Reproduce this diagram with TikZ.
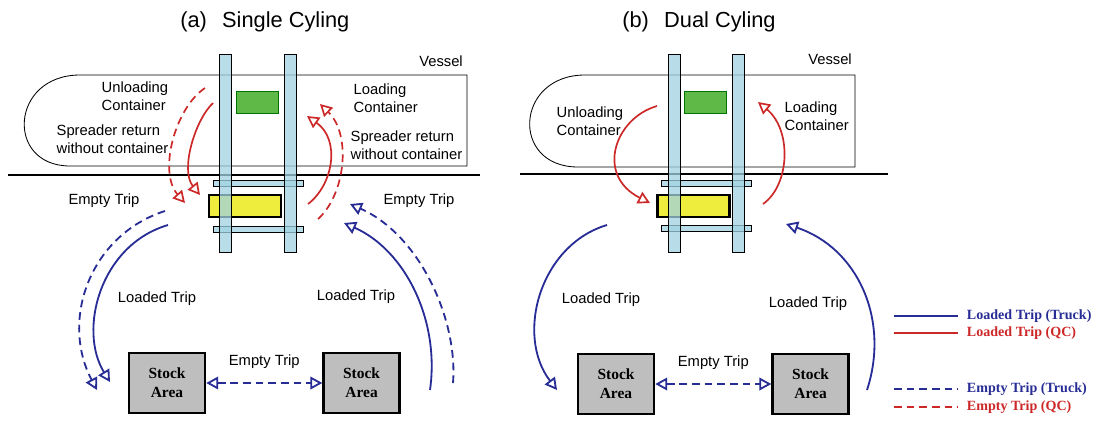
\documentclass[tikz,border=0pt]{standalone}
\usepackage{fontspec}
\setmainfont{Liberation Serif}
\setsansfont{Liberation Sans}
\usetikzlibrary{arrows.meta, positioning}

\definecolor{truckblue}{RGB}{40,45,150}
\definecolor{qcred}{RGB}{205,40,40}
\definecolor{cranefill}{RGB}{160,210,226}
\definecolor{holdgreen}{RGB}{95,185,70}
\definecolor{boxyellow}{RGB}{238,236,60}
\definecolor{stockgray}{RGB}{190,190,190}

\begin{document}
\begin{tikzpicture}[
    x=0.025cm, y=-0.025cm,
    font=\sffamily\fontsize{10.5}{13}\selectfont,
    >={Triangle[open, length=8.5pt, width=9pt]},
    lbl/.style={align=left, anchor=west, inner sep=1pt},
    paneltitle/.style={anchor=west, inner sep=0pt, font=\sffamily\fontsize{15.5}{18}\selectfont},
    stock/.style={rectangle, draw, line width=1.8pt, fill=stockgray, minimum width=1.9cm, minimum height=1.5cm, align=center, font=\rmfamily\bfseries\fontsize{11}{13.5}\selectfont},
    leg/.style={rectangle, draw, fill=cranefill, fill opacity=0.75, minimum width=0.3cm, minimum height=4.95cm, inner sep=0pt},
    crossbar/.style={rectangle, draw, fill=cranefill, fill opacity=0.75, minimum width=2.25cm, minimum height=0.16cm, inner sep=0pt},
    cargo/.style={rectangle, draw, line width=1.6pt, fill=boxyellow, minimum width=1.8cm, minimum height=0.55cm, inner sep=0pt},
    hold/.style={rectangle, draw=green!45!black, fill=holdgreen, minimum width=1.05cm, minimum height=0.55cm, inner sep=0pt},
    vessel/.style={draw, line width=0.6pt},
    quay/.style={draw, line width=1.4pt},
    truck/.style={->, draw=truckblue, line width=1.3pt},
    qc/.style={->, draw=qcred, line width=1.2pt},
    emptytrip/.style={dash pattern=on 5.5pt off 3.5pt},
    legendtext/.style={anchor=west, font=\rmfamily\bfseries\fontsize{10}{12}\selectfont}
]
\useasboundingbox (0,0) rectangle (1098,424);

% (a) single cycling
\node[paneltitle] (titleA) at (180,22) {(a)\hspace{0.7em}Single Cyling};
\draw[vessel] (467,75) -- (80,75) .. controls (10,75) and (5,166) .. (70,166) -- (467,166) -- cycle;
\node (vesselA) at (441,61) {Vessel};
\draw[quay] (8,175) -- (480,175);

\node[hold] (holdA) at (257,102) {};
\node[cargo] (cargoA) at (245,206) {};
\node[crossbar] (barA1) at (258,183) {};
\node[crossbar] (barA2) at (258,229) {};
\node[leg] (legA1) at (225,153.5) {};
\node[leg] (legA2) at (290,153.5) {};

\node[stock] (stockA1) at (167,383) {Stock\\Area};
\node[stock, right=2.9cm of stockA1] (stockA2) {Stock\\Area};

\coordinate (qaL1) at (205,88);  \coordinate (qaL2) at (185,203);
\coordinate (qaL3) at (213,103); \coordinate (qaL4) at (200,195);
\coordinate (qaR1) at (318,219); \coordinate (qaR2) at (320,104);
\coordinate (qaR3) at (308,204); \coordinate (qaR4) at (307,116);
\coordinate (taL1) at (165,211); \coordinate (taL2) at (97,390);
\coordinate (taL3) at (168,225); \coordinate (taL4) at (110,382);
\coordinate (taR1) at (453,383); \coordinate (taR2) at (350,204);
\coordinate (taR3) at (430,390); \coordinate (taR4) at (344,223);

\draw[qc, emptytrip] (qaL1) .. controls (175,108) and (158,172) .. (qaL2);
\draw[qc] (qaL3) .. controls (195,120) and (180,170) .. (qaL4);
\draw[qc, emptytrip] (qaR1) .. controls (345,195) and (352,135) .. (qaR2);
\draw[qc] (qaR3) .. controls (333,185) and (341,140) .. (qaR4);

\draw[truck, emptytrip] (taL1) .. controls (90,235) and (60,320) .. (taL2);
\draw[truck] (taL3) .. controls (100,245) and (78,330) .. (taL4);
\draw[truck, emptytrip] (taR1) .. controls (458,320) and (420,235) .. (taR2);
\draw[truck] (taR3) .. controls (440,320) and (405,250) .. (taR4);
\draw[truck, emptytrip, <->] (stockA1) -- node[above=6pt] (etA3) {Empty Trip} (stockA2);

\node[lbl] (unloadA) at (100,96.5) {Unloading\\Container};
\node[lbl] (retA1) at (55,139) {Spreader return\\without container};
\node[lbl] (loadA) at (352,98.5) {Loading\\Container};
\node[lbl] (retA2) at (349,145) {Spreader return\\without container};
\node (etA1) at (104,201) {Empty Trip};
\node (etA2) at (419,201) {Empty Trip};
\node (ltA1) at (157,299) {Loaded Trip};
\node (ltA2) at (356,297) {Loaded Trip};

% (b) dual cycling
\node[paneltitle] (titleB) at (622,22) {(b)\hspace{0.7em}Dual Cyling};
\draw[vessel] (855,75) -- (585,75) .. controls (515,75) and (510,167) .. (578,167) -- (855,167) -- cycle;
\node (vesselB) at (830,59) {Vessel};
\draw[quay] (520,174) -- (888,174);

\node[hold] (holdB) at (705.5,102) {};
\node[cargo] (cargoB) at (693.5,206) {};
\node[crossbar] (barB1) at (706,183) {};
\node[crossbar] (barB2) at (706,228.5) {};
\node[leg] (legB1) at (674,153.5) {};
\node[leg] (legB2) at (738.5,153.5) {};

\node[stock] (stockB1) at (616,384) {Stock\\Area};
\node[stock, right=2.9cm of stockB1] (stockB2) {Stock\\Area};

\coordinate (qbL1) at (657,106); \coordinate (qbL2) at (650,203);
\coordinate (qbR1) at (763,204); \coordinate (qbR2) at (758,102);
\coordinate (tbL1) at (607,225); \coordinate (tbL2) at (557,390);
\coordinate (tbR1) at (867,390); \coordinate (tbR2) at (786,224);

\draw[qc] (qbL1) .. controls (615,118) and (595,175) .. (qbL2);
\draw[qc] (qbR1) .. controls (790,185) and (792,130) .. (qbR2);
\draw[truck] (tbL1) .. controls (540,245) and (515,335) .. (tbL2);
\draw[truck] (tbR1) .. controls (890,320) and (858,248) .. (tbR2);
\draw[truck, emptytrip, <->] (stockB1) -- node[above=6pt] (etB) {Empty Trip} (stockB2);

\node[lbl] (unloadB) at (555,121) {Unloading\\Container};
\node[lbl] (loadB) at (783,116.5) {Loading\\Container};
\node (ltB1) at (601,300) {Loaded Trip};
\node (ltB2) at (808,304) {Loaded Trip};

% legend
\node[legendtext, text=truckblue] (lgA) at (962,316) {Loaded Trip (Truck)};
\node[legendtext, text=qcred] (lgB) at (962,333) {Loaded Trip (QC)};
\node[legendtext, text=truckblue] (lgC) at (962,389) {Empty Trip (Truck)};
\node[legendtext, text=qcred] (lgD) at (962,407) {Empty Trip (QC)};
\draw[truckblue, line width=1.4pt] ([xshift=-1.7cm]lgA.west) -- ([xshift=-0.1cm]lgA.west);
\draw[qcred, line width=1.4pt] ([xshift=-1.7cm]lgB.west) -- ([xshift=-0.1cm]lgB.west);
\draw[truckblue, line width=1.4pt, emptytrip] ([xshift=-1.7cm]lgC.west) -- ([xshift=-0.1cm]lgC.west);
\draw[qcred, line width=1.4pt, emptytrip] ([xshift=-1.7cm]lgD.west) -- ([xshift=-0.1cm]lgD.west);

\end{tikzpicture}
\end{document}
